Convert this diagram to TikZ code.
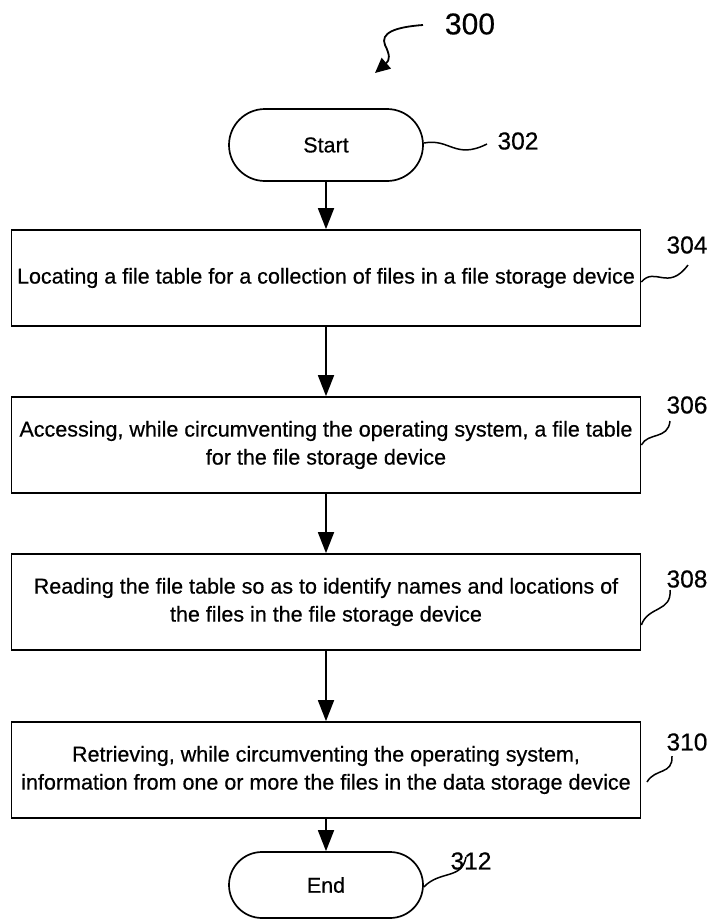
\documentclass[tikz,border=0pt]{standalone}
\usepackage{fontspec}
\setmainfont{Liberation Sans}[FakeBold=0.5]
\usetikzlibrary{shapes.misc,arrows.meta,calc}
\begin{document}
\begin{tikzpicture}[x=1pt,y=-1pt,line width=1.7pt,
  stepbox/.style={draw,rectangle,minimum width=629pt,minimum height=96pt,
    align=center,inner sep=0pt,font=\fontsize{21.5}{28}\selectfont},
  terminal/.style={draw,rounded rectangle,minimum width=194pt,minimum height=72pt,
    inner sep=0pt,font=\fontsize{21.5}{28}\selectfont},
  refnum/.style={inner sep=0pt,font=\fontsize{24.5}{28}\selectfont},
  flow/.style={-{Triangle[length=21pt,width=16pt]}},
  lead/.style={line width=1.5pt}]
\useasboundingbox (0,0) rectangle (714,922);

% figure number with its curved pointer
\node[inner sep=0pt,font=\fontsize{30}{32}\selectfont] (l300) at (470,24) {300};
\coordinate (p300) at (423,25);
\draw[line width=1.8pt,-{Triangle[length=15pt,width=14pt]}]
  (p300) .. controls (395,27) and (380,33) .. (385,45)
         .. controls (390,55) and (390,60) .. (375,73);

% flow chart
\node[terminal] (start) at (326,145) {Start};
\node[stepbox] (b304) at (326,278)
  {Locating a file table for a collection of files in a file storage device};
\node[stepbox] (b306) at (326,445)
  {Accessing, while circumventing the operating system, a file table\\for the file storage device};
\node[stepbox] (b308) at (326,602)
  {Reading the file table so as to identify names and locations of\\the files in the file storage device};
\node[stepbox] (b310) at (326,770)
  {Retrieving, while circumventing the operating system,\\information from one or more the files in the data storage device};
\node[terminal,minimum height=66pt] (end) at (326,885) {End};

\draw[flow] (start) -- (b304);
\draw[flow] (b304) -- (b306);
\draw[flow] (b306) -- (b308);
\draw[flow] (b308) -- (b310);
\draw[flow] (b310) -- (end);

% reference numerals and lead lines
\node[refnum] (l302) at (518,141) {302};
\node[refnum] (l304) at (687,245) {304};
\node[refnum] (l306) at (687,405) {306};
\node[refnum] (l308) at (687,579) {308};
\node[refnum] (l310) at (687,742) {310};
\node[refnum] (l312) at (471,861) {312};

\draw[lead] ([yshift=2pt]start.east) .. controls (450,138) and (455,160) .. (487,144);
\draw[lead] ([yshift=-4pt]b304.east) .. controls (655,266) and (668,292) .. (688,265);
\draw[lead] ([yshift=0pt]b306.east) .. controls (648,432) and (668,440) .. (670,421);
\draw[lead] ([yshift=-23pt]b308.east) .. controls (648,606) and (672,612) .. (670,590);
\draw[lead] (647,782) .. controls (655,768) and (673,775) .. (672,756);
\draw[lead] ([yshift=-2pt]end.east) .. controls (440,870) and (462,880) .. (466,857);
\end{tikzpicture}
\end{document}
